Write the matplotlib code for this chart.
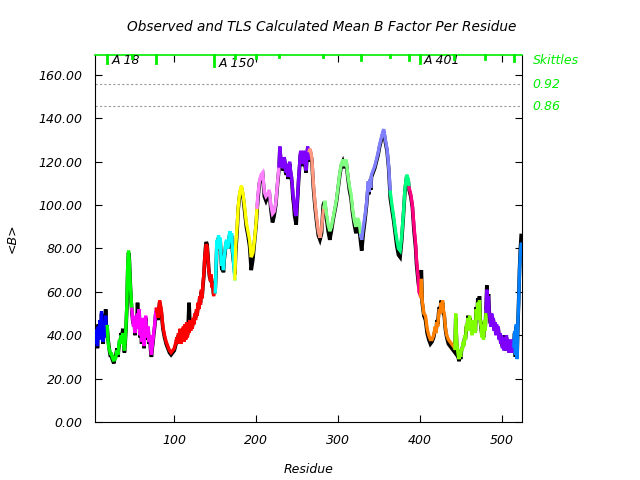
import numpy as np
import matplotlib
matplotlib.use("Agg")
import matplotlib.pyplot as plt

# residue numbers (1 or 2 residue steps)
residue = (list(range(3, 79))
           + [80, 82, 84, 86, 88, 90, 92, 94, 96, 98, 100, 102]
           + list(range(103, 175))
           + [175, 177, 178, 180, 182, 184, 186, 188, 190, 192, 194, 196, 198, 200, 201]
           + [202, 204, 206, 208, 210, 212, 214, 216, 218, 220, 222, 224, 226, 228]
           + list(range(229, 266))
           + [266, 268, 270, 272, 274, 276, 278, 280, 282, 283]
           + [284, 286, 288, 290, 292, 294, 296, 298, 300, 302, 304, 306, 308, 310, 312, 314,
              316, 318, 320, 322, 324, 326, 328]
           + [329, 331, 333, 335, 337, 338, 339, 340, 341, 343, 345, 347, 349, 351, 353, 355,
              356, 358, 360, 362, 364]
           + [366, 368, 370, 372, 374, 376, 378, 380, 382, 384, 386, 387]
           + [389, 391, 393, 395, 396, 398, 399, 401]
           + [402, 403, 405, 407, 409, 411, 413, 415, 417, 419, 420, 421, 422, 423, 424, 425,
              426, 427, 428, 429, 430, 431, 432, 433, 435, 437, 439, 441, 443]
           + list(range(444, 525)))

# TLS calculated mean B
b_tls = [42, 36, 40, 35, 44, 38, 47, 40, 51, 42, 37, 45, 39, 49, 41, 44,
         37, 34, 33, 31, 32, 30, 29, 28, 30, 29, 31, 33, 31, 35, 38, 36, 40, 38, 41, 36,
         33, 38, 45, 55, 72, 79, 74, 64, 58, 52,
         48, 44, 47, 41, 49, 43, 50, 45, 52, 40, 46, 37, 48, 40, 35, 45, 49, 42, 39, 44,
         37, 40, 34, 31, 35, 38, 42, 45, 50, 52,
         48, 56, 52, 44, 40, 37, 35, 33, 32, 33, 34, 37,
         39, 36, 41, 37, 43, 36, 42, 38, 44, 37, 45, 38, 46, 39, 45, 41, 47, 42, 46, 43,
         48, 45, 50, 47, 52, 49, 55, 52, 58, 54, 61, 57, 64, 68, 75, 79, 82, 81, 76, 70,
         68, 65, 68, 62, 64, 58, 63, 60,
         72, 84, 80, 86, 82, 85, 76, 72, 74, 70, 76, 79, 83, 84, 80, 81, 86, 88, 84, 87,
         80, 76, 70, 66,
         81, 92, 99, 106, 109, 105, 99, 92, 88, 84, 76, 78, 84, 92, 99,
         104, 111, 114, 115, 106, 104, 105, 107, 100, 96, 97, 101, 110, 118,
         127, 122, 121, 118, 117, 122, 121, 116, 115, 119, 113, 118, 120, 116, 114, 110,
         105, 102, 98, 96, 95, 101, 106, 113, 118, 124, 125, 119, 121, 125, 124, 119,
         116, 122, 127, 121, 125,
         126, 122, 110, 101, 94, 88, 85, 89, 97, 99,
         102, 96, 91, 88, 90, 94, 98, 102, 108, 114, 119, 121, 118, 121, 114, 109, 105, 98,
         93, 90, 94, 92, 86,
         84, 90, 95, 101, 111, 106, 112, 108, 114, 116, 118, 121, 124, 128, 131, 134, 135,
         130, 126, 118, 106,
         100, 95, 89, 84, 80, 79, 86, 96, 108, 114, 112, 108,
         105, 100, 90, 82, 75, 67, 60, 58,
         66, 56, 50, 49, 43, 40, 38, 38, 40, 44, 41, 46, 44, 49, 52, 50, 55, 53, 56, 51,
         50, 45, 42, 40, 38, 37, 36, 35, 34,
         50, 38, 34, 31, 29, 32, 30, 34, 33, 37, 35, 40, 38, 45, 42, 48, 43, 49, 42, 44,
         40, 47, 42, 46, 41, 52, 47, 55, 49, 56, 46, 44, 39, 42, 38, 47, 42, 51,
         61, 52, 58, 50, 47, 44, 50, 45, 48, 42, 46, 40, 45, 41, 44, 38, 41, 36, 40, 34,
         38, 33, 39, 34, 40, 33, 37, 32, 38, 33, 36, 32, 38, 35,
         42, 31, 45, 29, 46, 56, 70, 78, 82]

# observed mean B
b_obs = [43, 37, 41, 34, 45, 39, 46, 41, 50, 43, 36, 46, 40, 52, 42, 43,
         38, 35, 32, 30, 31, 29, 28, 27, 29, 30, 32, 34, 30, 34, 37, 37, 41, 39, 43, 37,
         32, 37, 44, 53, 70, 78, 75, 65, 57, 51,
         47, 45, 46, 40, 48, 44, 55, 46, 51, 39, 45, 36, 47, 41, 34, 44, 48, 43, 38, 43,
         36, 39, 33, 30, 34, 37, 41, 44, 49, 51,
         47, 55, 51, 43, 39, 36, 34, 32, 31, 32, 33, 36,
         38, 37, 40, 38, 42, 37, 41, 39, 43, 38, 44, 39, 45, 40, 46, 55, 46, 43, 45, 44,
         47, 46, 49, 48, 51, 50, 54, 53, 57, 55, 60, 58, 63, 67, 74, 80, 83, 82, 77, 71,
         67, 66, 67, 63, 63, 59, 62, 61,
         70, 82, 81, 85, 83, 84, 77, 70, 73, 69, 75, 78, 82, 83, 81, 80, 85, 87, 85, 86,
         79, 75, 72, 68,
         78, 90, 98, 105, 108, 104, 97, 90, 86, 81, 70, 75, 83, 91, 97,
         102, 110, 113, 114, 104, 102, 104, 106, 98, 92, 95, 100, 109, 117,
         126, 121, 120, 117, 116, 121, 120, 115, 114, 118, 112, 117, 119, 115, 113, 109,
         103, 100, 95, 93, 91, 99, 105, 112, 117, 123, 124, 118, 120, 124, 123, 118,
         115, 121, 126, 120, 124,
         125, 121, 108, 99, 92, 86, 84, 87, 100, 101,
         101, 94, 88, 84, 88, 93, 97, 101, 107, 113, 118, 120, 117, 120, 113, 107, 103, 96,
         91, 87, 92, 89, 82,
         79, 87, 93, 100, 109, 105, 111, 107, 113, 115, 117, 120, 123, 127, 130, 133, 134,
         129, 125, 117, 103,
         98, 93, 87, 81, 77, 76, 84, 95, 107, 113, 111, 107,
         104, 99, 88, 80, 73, 65, 62, 68,
         70, 55, 49, 47, 41, 38, 36, 37, 39, 43, 42, 47, 45, 50, 53, 51, 56, 54, 55, 50,
         49, 44, 41, 39, 36, 35, 34, 33, 32,
         48, 37, 33, 30, 28, 31, 29, 33, 34, 36, 36, 39, 39, 44, 43, 49, 42, 48, 43, 43,
         41, 46, 43, 45, 42, 53, 48, 57, 50, 58, 47, 43, 40, 41, 39, 46, 43, 52,
         63, 53, 59, 51, 46, 45, 49, 46, 47, 43, 45, 41, 44, 42, 43, 39, 40, 37, 39, 35,
         37, 34, 40, 33, 39, 34, 36, 33, 37, 32, 35, 33, 37, 36,
         41, 30, 44, 30, 45, 57, 71, 80, 86]

# TLS groups: first residue, last residue, colour
seg_start = [3, 18, 48, 78, 150, 174, 201, 228, 265, 283, 328, 364, 387, 401, 443, 481, 515]
seg_end = [18, 48, 78, 150, 174, 201, 228, 265, 283, 328, 364, 387, 401, 443, 481, 515, 524]
seg_color = ['#0000ff', '#00ff00', '#ff00ff', '#ff0000', '#00ffff', '#ffff00', '#ff80ff',
             '#8000ff', '#ff9980', '#80ff80', '#8080ff', '#00ff80', '#ff0080', '#ff8000',
             '#80ff00', '#8000ff', '#0080ff']

# group boundary marks along the top (length in pixels)
mark_res = [18, 48, 77, 149, 174, 200, 228, 282, 328, 364, 387, 400, 442, 480, 515]
mark_len = [8, 3, 8, 11, 3, 3, 2, 2, 5, 2, 5, 8, 4, 4, 6]
chain_labels = ['A 18', 'A 150', 'A 401']
chain_label_x = [23, 154, 405]
chain_label_y = [166.6, 165.4, 166.6]

skittles = [0.92, 0.86]
skittle_y = [155.8, 145.6]

ymax = 169.2
green = '#00ee00'

plt.rcParams['font.family'] = 'DejaVu Sans'
plt.rcParams['font.style'] = 'italic'

fig = plt.figure(figsize=(6.4, 4.8), dpi=100)
ax = fig.add_axes([95 / 640, 58 / 480, 427 / 640, 367 / 480])

res = np.array(residue)
tls = np.array(b_tls)
ax.plot(res, b_obs, color='black', lw=2.6, solid_joinstyle='miter', zorder=2)
for s, e, c in zip(seg_start, seg_end, seg_color):
    m = (res >= s) & (res <= e)
    ax.plot(res[m], tls[m], color=c, lw=2.4, solid_joinstyle='miter', zorder=3)

for y in skittle_y:
    ax.axhline(y, color='#999999', lw=0.8, ls=(0, (2, 2)), zorder=1)

for r, l in zip(mark_res, mark_len):
    ax.plot([r, r], [ymax, ymax - l / 2.168], color=green, lw=2, zorder=4, clip_on=False)

for t, x, y in zip(chain_labels, chain_label_x, chain_label_y):
    ax.text(x, y, t, fontsize=9, va='center', ha='left')

ax.text(1.025, 166.5, 'Skittles', color=green, fontsize=9, va='center',
        transform=ax.get_yaxis_transform())
for v, y in zip(skittles, skittle_y):
    ax.text(1.025, y, '%.2f' % v, color=green, fontsize=9, va='center',
            transform=ax.get_yaxis_transform())

ax.set_xlim(3, 525)
ax.set_ylim(0, ymax)
ax.set_xticks([100, 200, 300, 400, 500])
ax.set_yticks(np.arange(0, 161, 20))
ax.set_yticklabels(['%.2f' % v for v in np.arange(0, 161, 20)])
ax.tick_params(direction='in', length=5, top=True, right=True, labelsize=9, pad=9)
ax.spines['top'].set_color(green)
ax.spines['top'].set_linewidth(1.2)

ax.set_xlabel('Residue', fontsize=9, labelpad=11)
ax.set_ylabel('<B>', fontsize=9, labelpad=14)
fig.text(0.503, 0.944, 'Observed and TLS Calculated Mean B Factor Per Residue',
         ha='center', va='center', fontsize=9.8)

fig.savefig('out.png', dpi=100)
